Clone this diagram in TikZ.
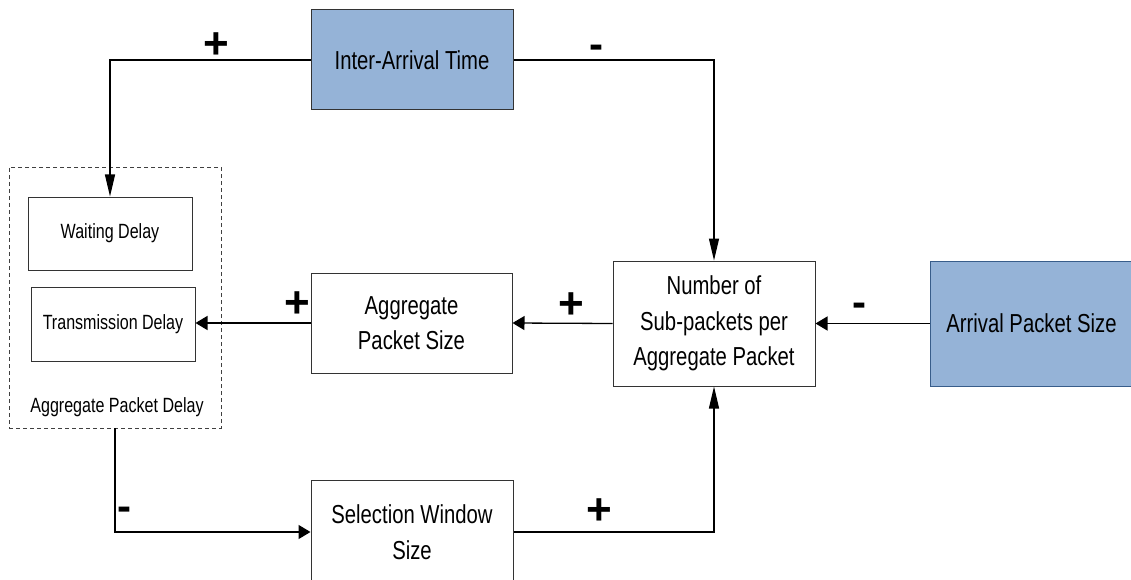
\documentclass[tikz,border=0pt]{standalone}
\usepackage{fontspec}
\setmainfont{Liberation Sans}[FakeStretch=0.78]
\newfontfamily\signfont{Liberation Sans}
\usetikzlibrary{arrows.meta}
\definecolor{varfill}{HTML}{95B3D7}
\definecolor{varedge}{HTML}{385D8A}
\begin{document}
\begin{tikzpicture}[x=1pt,y=-1pt,
  box/.style={draw=black!80, line width=1pt, fill=white, inner sep=0pt,
    align=center, font=\fontsize{26}{35.5}\selectfont},
  inputbox/.style={box, fill=varfill},
  smallbox/.style={box, font=\fontsize{20.6}{25}\selectfont},
  groupbox/.style={draw=black!75, line width=0.9pt, dash pattern=on 4pt off 3pt, inner sep=0pt},
  smalltext/.style={inner sep=0pt, font=\fontsize{20.6}{25}\selectfont},
  plussign/.style={inner sep=0pt, font=\signfont\bfseries\fontsize{44}{44}\selectfont},
  minussign/.style={inner sep=0pt, font=\signfont\bfseries\fontsize{42}{42}\selectfont},
  conn/.style={draw=black, line width=1.3pt},
  vtip/.style={-{Triangle[length=22pt,width=10pt]}},
  htip/.style={-{Triangle[length=12pt,width=14pt]}}]
  \useasboundingbox (0,0) rectangle (1131,580);

  % group of delay components
  \node[groupbox, minimum width=212pt, minimum height=261pt] (grp) at (115,297.5) {};
  \node[smallbox, minimum width=164pt, minimum height=73pt] (wait) at (110,233.5) {Waiting Delay};
  \node[smallbox, minimum width=164pt, minimum height=74pt] (trans) at (113,324) {Transmission Delay};
  \node[smalltext] (grplabel) at (117,407) {Aggregate Packet Delay};

  % variables
  \node[inputbox, minimum width=202pt, minimum height=100pt] (iat) at (412,60) {Inter-Arrival Time};
  \node[box, minimum width=201pt, minimum height=100pt] (agg) at (411.5,323) {Aggregate\\Packet Size};
  \node[box, minimum width=202pt, minimum height=125pt] (num) at (714,323.5) {Number of\\Sub-packets per\\Aggregate Packet};
  \node[inputbox, draw=varedge, minimum width=203pt, minimum height=125pt] (arr) at (1031.5,323.5) {Arrival Packet Size};
  \node[box, minimum width=202pt, minimum height=104pt] (sel) at (412,532) {Selection Window\\Size};

  % causal links
  \draw[conn, vtip] (iat.west) -| (wait.north);
  \draw[conn, vtip] (iat.east) -| (num.north);
  \draw[conn, htip] (arr.west) -- (num.east);
  \draw[conn, htip] (num.west) -- (agg.east);
  \draw[conn, htip] (agg.west) -- (agg.west -| trans.east);
  \draw[conn, htip] (grp.south) |- (sel.west);
  \draw[conn, vtip] (sel.east) -| (num.south);

  % link polarities
  \node[plussign] (p1) at (216,46) {+};
  \node[minussign] (m1) at (596,52) {-};
  \node[plussign] (p2) at (297,305) {+};
  \node[plussign] (p3) at (571,306) {+};
  \node[minussign] (m2) at (859,310) {-};
  \node[minussign] (m3) at (124,514) {-};
  \node[plussign] (p4) at (599,512) {+};
\end{tikzpicture}
\end{document}
